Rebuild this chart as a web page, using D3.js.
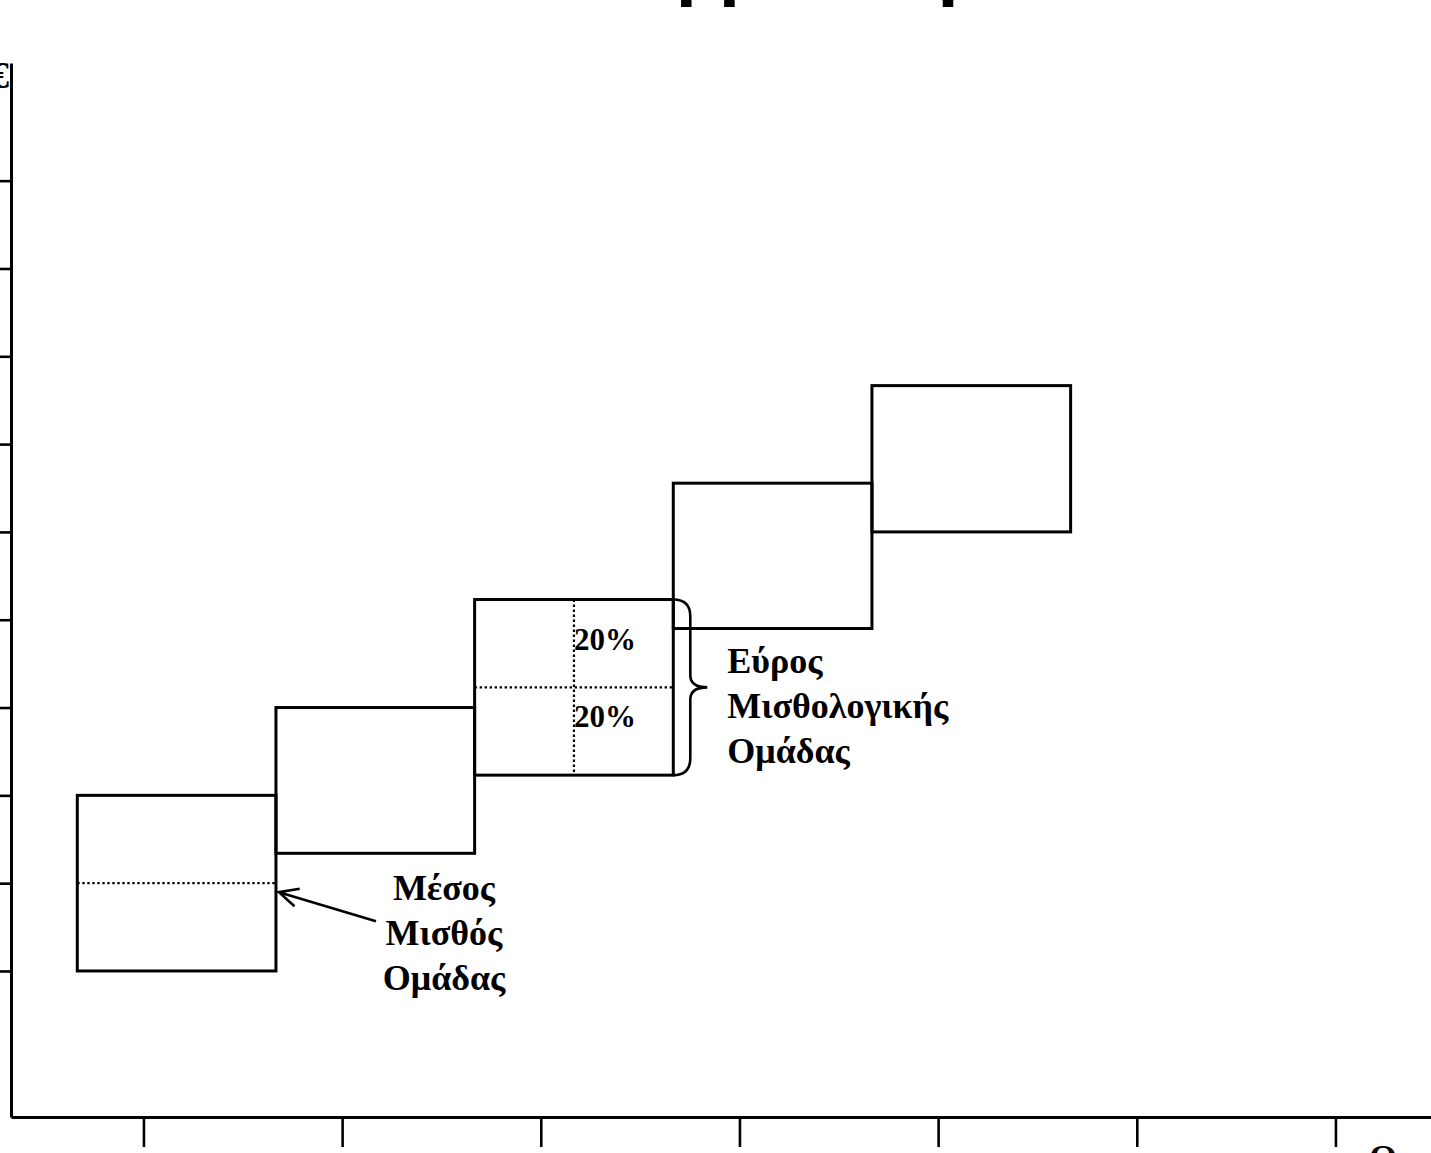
<!DOCTYPE html>
<html><head><meta charset="utf-8">
<script src="https://cdn.jsdelivr.net/npm/d3@7"></script>
<style>body{margin:0;background:#fff;overflow:hidden} svg{display:block}</style>
</head><body>
<svg id="c" width="1431" height="1153"></svg>
<script>
// ---- data ----
const groups    = ["Ομάδα 1","Ομάδα 2","Ομάδα 3","Ομάδα 4","Ομάδα 5"];
const groupX0   = [0.667, 1.667, 2.667, 3.667, 4.667];
const groupX1   = [1.667, 2.667, 3.667, 4.667, 5.667];
const groupMin  = [1.00, 2.34, 3.23, 4.90, 6.00];
const groupMax  = [3.00, 4.00, 5.23, 6.555, 7.666];
const xTicks    = [1, 2, 3, 4, 5, 6, 7];
const yTicks    = [1, 2, 3, 4, 5, 6, 7, 8, 9, 10];
const meanLineGroups  = [0, 2];   // groups showing dotted mean line
const splitGroups     = [2];      // groups showing the dotted vertical split + 20% labels
const pctLabels = ["20%", "20%"];
const rangeLabel = ["Εύρος", "Μισθολογικής", "Ομάδας"];
const meanLabel  = ["Μέσος", "Μισθός", "Ομάδας"];
const titleText  = "Εναρμόνιση Μισθών";
const yTitle     = "Μισθός σε €";
const xTitle     = "Ομαδοποίηση Θέσεων";

const boxes = groups.map((g,i)=>({g, x0:groupX0[i], x1:groupX1[i], lo:groupMin[i], hi:groupMax[i], mid:(groupMin[i]+groupMax[i])/2}));

// ---- scales ----
const W = 1431, H = 1153;
const x = d3.scaleLinear().domain([0.3333, 7.481]).range([11, 1431]);
const y = d3.scaleLinear().domain([-0.663, 11.34]).range([1117, 63]);

const svg = d3.select("#c");
const serif = "'Liberation Serif','Times New Roman',serif";

// title (mostly cropped at top)
svg.append("text").attr("x", 553).attr("y", -6).attr("text-anchor","start")
  .attr("font-family","'DejaVu Sans',sans-serif").attr("font-weight","bold").attr("font-size",60)
  .text(titleText);

// axes
const yAxis = svg.append("g").attr("transform",`translate(${x.range()[0]},0)`)
  .call(d3.axisLeft(y).tickValues(yTicks).tickSize(22).tickSizeOuter(0).tickFormat(""));
const xAxis = svg.append("g").attr("transform",`translate(0,${y.range()[0]})`)
  .call(d3.axisBottom(x).tickValues(xTicks).tickSize(30).tickSizeOuter(0).tickFormat(""));
[yAxis, xAxis].forEach(a=>{
  a.select(".domain").attr("stroke","#000").attr("stroke-width",3);
  a.selectAll(".tick line").attr("stroke","#000").attr("stroke-width",2.6);
});

// axis titles (cropped, as in the reference)
svg.append("text").attr("x", 9).attr("y", 88).attr("text-anchor","end")
  .attr("font-family",serif).attr("font-weight","bold").attr("font-size",38).text(yTitle);
svg.append("text").attr("x", 1369).attr("y", 1170).attr("text-anchor","start")
  .attr("font-family",serif).attr("font-weight","bold").attr("font-size",36).text(xTitle);

// boxes
svg.append("g").selectAll("rect").data(boxes).join("rect")
  .attr("x", d=>x(d.x0)).attr("y", d=>y(d.hi))
  .attr("width", d=>x(d.x1)-x(d.x0)).attr("height", d=>y(d.lo)-y(d.hi))
  .attr("fill","none").attr("stroke","#000").attr("stroke-width",3);

// dotted mean lines
svg.append("g").selectAll("line").data(meanLineGroups.map(i=>boxes[i])).join("line")
  .attr("x1", d=>x(d.x0)).attr("x2", d=>x(d.x1)).attr("y1", d=>y(d.mid)).attr("y2", d=>y(d.mid))
  .attr("stroke","#000").attr("stroke-width",2.2).attr("stroke-dasharray","2.4,2.6");

// dotted vertical split
svg.append("g").selectAll("line").data(splitGroups.map(i=>boxes[i])).join("line")
  .attr("x1", d=>x((d.x0+d.x1)/2)).attr("x2", d=>x((d.x0+d.x1)/2)).attr("y1", d=>y(d.hi)).attr("y2", d=>y(d.lo))
  .attr("stroke","#000").attr("stroke-width",2.2).attr("stroke-dasharray","2.4,2.6");

// 20% labels, brace and range label
splitGroups.forEach(i=>{
  const d = boxes[i];
  const cx = x((d.x0+d.x1)/2);
  const qUp = y((d.mid+d.hi)/2), qLo = y((d.mid+d.lo)/2);
  [qUp+7, qLo-4].forEach((yy,k)=>{
    svg.append("text").attr("x", cx).attr("y", yy)
      .attr("font-family",serif).attr("font-weight","bold").attr("font-size",31).text(pctLabels[k]);
  });

  const bx = x(d.x1), yt = y(d.hi), yb = y(d.lo), ym = y(d.mid);
  const bw = 17, tip = 34, r = 17;
  const p = d3.path();
  p.moveTo(bx, yt);
  p.quadraticCurveTo(bx+bw, yt, bx+bw, yt+r);
  p.lineTo(bx+bw, ym-r+5);
  p.quadraticCurveTo(bx+bw, ym, bx+tip, ym);
  p.quadraticCurveTo(bx+bw, ym, bx+bw, ym+r-5);
  p.lineTo(bx+bw, yb-r);
  p.quadraticCurveTo(bx+bw, yb, bx, yb);
  svg.append("path").attr("d", p.toString()).attr("fill","none").attr("stroke","#000").attr("stroke-width",2.6);

  const g = svg.append("text").attr("font-family",serif).attr("font-weight","bold").attr("font-size",36);
  rangeLabel.forEach((t,k)=>{
    g.append("tspan").attr("x", bx+54).attr("y", ym-14+k*45).text(t);
  });
});

// mean label + arrow to group 1 mean line
{
  const d = boxes[0];
  const tipX = x(d.x1)+3, tipY = y(d.mid)+9;
  const lx = x(d.x1)+168, ly0 = y(d.mid)+17;
  const g = svg.append("text").attr("font-family",serif).attr("font-weight","bold").attr("font-size",36).attr("text-anchor","middle");
  meanLabel.forEach((t,k)=>{
    g.append("tspan").attr("x", lx).attr("y", ly0+k*45).text(t);
  });
  const tailX = lx-68, tailY = ly0+45-24;
  const ang = Math.atan2(tailY-tipY, tailX-tipX);
  const L = 21, sp = 0.45;
  const p = d3.path();
  p.moveTo(tailX, tailY); p.lineTo(tipX, tipY);
  p.moveTo(tipX+L*Math.cos(ang-sp), tipY+L*Math.sin(ang-sp));
  p.lineTo(tipX, tipY);
  p.lineTo(tipX+L*Math.cos(ang+sp), tipY+L*Math.sin(ang+sp));
  svg.append("path").attr("d", p.toString()).attr("fill","none").attr("stroke","#000").attr("stroke-width",2.6);
}
</script>
</body></html>
